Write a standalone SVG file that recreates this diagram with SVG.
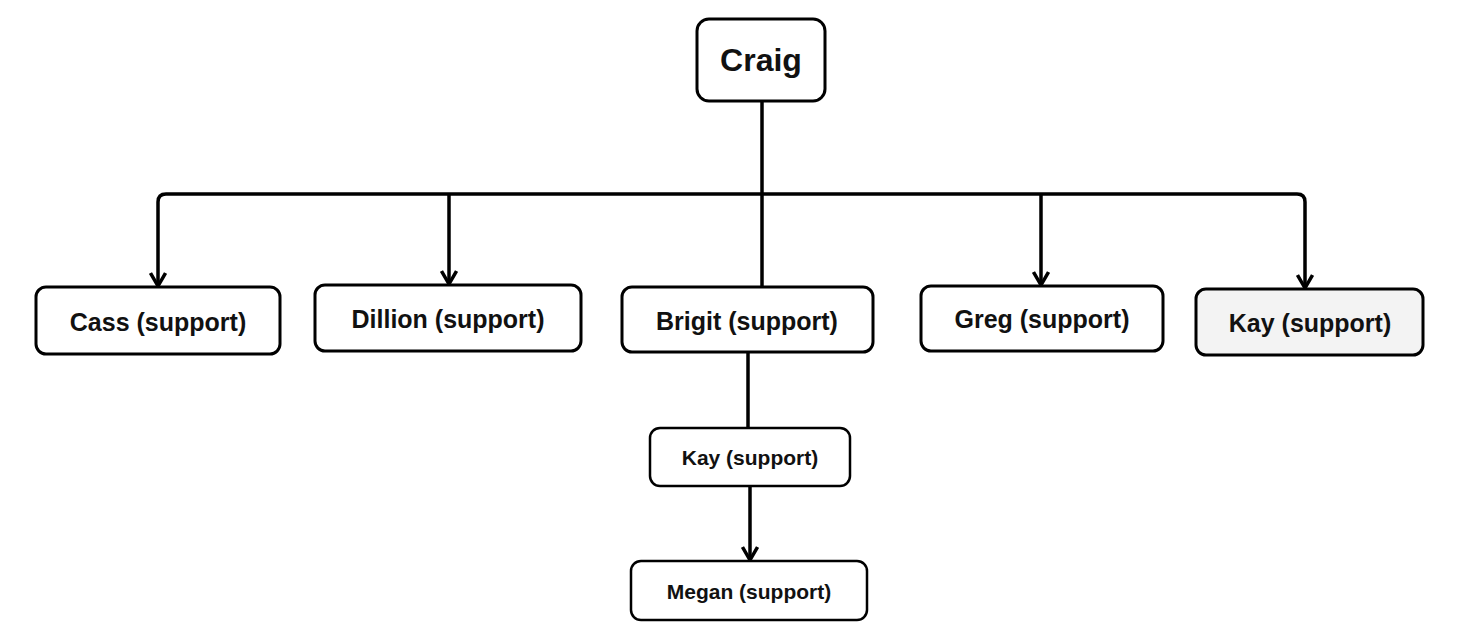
<svg xmlns="http://www.w3.org/2000/svg" width="1460" height="629" viewBox="0 0 1460 629">
<style>
.n rect{fill:#fff;stroke:#000;stroke-width:3}
.n text{font-family:"Liberation Sans",Arial,sans-serif;font-weight:bold;text-anchor:middle;fill:#111}
.c path{fill:none;stroke:#000;stroke-width:3.5}
</style>
<defs>
<marker id="v" viewBox="0 0 16 18" refX="14" refY="9" markerWidth="16" markerHeight="18" markerUnits="userSpaceOnUse" orient="auto">
<path d="M1,1.5 L14,9 L1,16.5" fill="none" stroke="#000" stroke-width="3.5"/>
</marker>
</defs>
<rect width="1460" height="629" fill="#fff"/>
<g class="c">
<path d="M762,101 V287"/>
<path d="M762,194 H166 Q158,194 158,202 V286" marker-end="url(#v)"/>
<path d="M449,194 V284" marker-end="url(#v)"/>
<path d="M762,194 H1297 Q1305,194 1305,202 V288" marker-end="url(#v)"/>
<path d="M1041,194 V285" marker-end="url(#v)"/>
<path d="M748,352 V428"/>
<path d="M750,486 V560" marker-end="url(#v)"/>
</g>
<g class="n" id="craig"><rect x="697" y="19" width="128" height="82" rx="12"/><text x="761" y="71" font-size="32">Craig</text></g>
<g class="n" id="cass"><rect x="36" y="287" width="244" height="67" rx="10"/><text x="158" y="331" font-size="25">Cass (support)</text></g>
<g class="n" id="dillion"><rect x="315" y="285" width="266" height="66" rx="10"/><text x="448" y="328" font-size="25">Dillion (support)</text></g>
<g class="n" id="brigit"><rect x="622" y="287" width="251" height="65" rx="10"/><text x="747" y="330" font-size="25">Brigit (support)</text></g>
<g class="n" id="greg"><rect x="921" y="286" width="242" height="65" rx="10"/><text x="1042" y="328" font-size="25">Greg (support)</text></g>
<g class="n" id="kay1"><rect x="1196" y="289" width="227" height="66" rx="10" style="fill:#f3f3f3"/><text x="1310" y="332" font-size="25">Kay (support)</text></g>
<g class="n" id="kay2"><rect x="650" y="428" width="200" height="58" rx="10" style="stroke-width:2.5"/><text x="750" y="465" font-size="21">Kay (support)</text></g>
<g class="n" id="megan"><rect x="631" y="561" width="236" height="59" rx="10" style="stroke-width:2.5"/><text x="749" y="599" font-size="21">Megan (support)</text></g>
</svg>
